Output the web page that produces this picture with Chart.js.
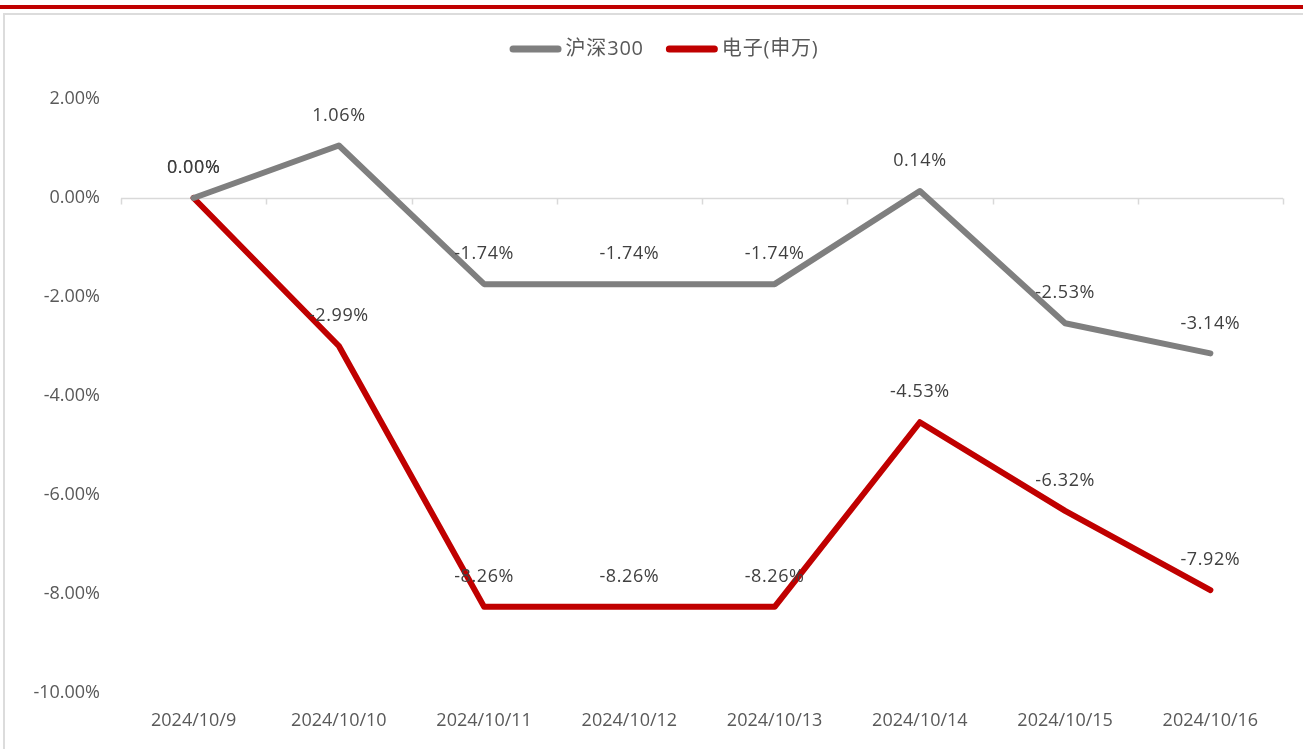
<!DOCTYPE html>
<html>
<head>
<meta charset="utf-8">
<script src="https://cdn.jsdelivr.net/npm/chart.js@4.4.1/dist/chart.umd.min.js"></script>
<style>
  html, body { margin: 0; padding: 0; background: #fff; }
  #wrap { position: relative; width: 1303px; height: 749px; overflow: hidden; }
  #topbar { position: absolute; left: 0; top: 5px; width: 1303px; height: 4px; background: #c00000; }
  #frame { position: absolute; left: 3px; top: 13px; width: 1400px; height: 800px; border: 2px solid #dcdcdc; }
  #chart { position: absolute; left: 0; top: 0; }
</style>
</head>
<body>
<div id="wrap">
  <div id="topbar"></div>
  <div id="frame"></div>
  <canvas id="chart" width="1303" height="749"></canvas>
</div>
<script>
const dates = ['2024/10/9', '2024/10/10', '2024/10/11', '2024/10/12', '2024/10/13', '2024/10/14', '2024/10/15', '2024/10/16'];
const hs300 = [0.00, 1.06, -1.74, -1.74, -1.74, 0.14, -2.53, -3.14];
const dianzi = [0.00, -2.99, -8.26, -8.26, -8.26, -4.53, -6.32, -7.92];
const seriesNames = ['沪深300', '电子(申万)'];
const seriesColors = ['#7f7f7f', '#c00000'];

const FONT = '"Open Sans", "Noto Sans CJK SC", sans-serif';

// zero line + category tick marks
const zeroAxis = {
  id: 'zeroAxis',
  beforeDatasetsDraw(chart) {
    const ctx = chart.ctx;
    const y = chart.scales.y;
    const y0 = Math.round(y.getPixelForValue(0)) + 0.5;
    ctx.save();
    ctx.strokeStyle = '#d9d9d9';
    ctx.lineWidth = 1.5;
    ctx.beginPath();
    ctx.moveTo(chart.chartArea.left, y0);
    ctx.lineTo(chart.chartArea.right, y0);
    const n = dates.length;
    for (let i = 0; i <= n; i++) {
      const px = chart.chartArea.left + (chart.chartArea.right - chart.chartArea.left) * i / n;
      ctx.moveTo(Math.round(px) + 0.5, y0);
      ctx.lineTo(Math.round(px) + 0.5, y0 + 6);
    }
    ctx.stroke();
    ctx.restore();
  }
};

// value labels above each point
const pointLabels = {
  id: 'pointLabels',
  afterDatasetsDraw(chart) {
    const ctx = chart.ctx;
    ctx.save();
    ctx.font = '18px ' + FONT;
    ctx.letterSpacing = '0.6px';
    ctx.fillStyle = '#404040';
    ctx.textAlign = 'center';
    ctx.textBaseline = 'middle';
    chart.data.datasets.forEach((ds, i) => {
      chart.getDatasetMeta(i).data.forEach((pt, j) => {
        ctx.fillText(ds.data[j].toFixed(2) + '%', pt.x, pt.y - 30);
      });
    });
    ctx.restore();
  }
};

// legend drawn at top centre
const topLegend = {
  id: 'topLegend',
  afterDraw(chart) {
    const ctx = chart.ctx;
    ctx.save();
    ctx.font = '20px ' + FONT;
    ctx.letterSpacing = '0.8px';
    ctx.textBaseline = 'middle';
    const lineW = 52, gapText = 4, gapItem = 22, yy = 49;
    const items = chart.data.datasets.map(ds => ({ label: ds.label, color: ds.borderColor, w: ctx.measureText(ds.label).width }));
    let total = 0;
    items.forEach((it, k) => { total += lineW + gapText + it.w + (k < items.length - 1 ? gapItem : 0); });
    let xx = 664 - total / 2;
    items.forEach(it => {
      ctx.strokeStyle = it.color;
      ctx.lineWidth = 7;
      ctx.lineCap = 'round';
      ctx.beginPath();
      ctx.moveTo(xx + 3.5, yy);
      ctx.lineTo(xx + lineW - 3.5, yy);
      ctx.stroke();
      ctx.fillStyle = '#595959';
      ctx.textAlign = 'left';
      ctx.fillText(it.label, xx + lineW + gapText, yy);
      xx += lineW + gapText + it.w + gapItem;
    });
    ctx.restore();
  }
};

new Chart(document.getElementById('chart'), {
  type: 'line',
  data: {
    labels: dates,
    datasets: [
      { label: seriesNames[0], data: hs300, borderColor: seriesColors[0], backgroundColor: seriesColors[0] },
      { label: seriesNames[1], data: dianzi, borderColor: seriesColors[1], backgroundColor: seriesColors[1] }
    ]
  },
  options: {
    responsive: false,
    animation: false,
    layout: { padding: { top: 99, right: 20, bottom: 0, left: 0 } },
    elements: {
      line: { borderWidth: 6, tension: 0, borderCapStyle: 'round', borderJoinStyle: 'round' },
      point: { radius: 0, hoverRadius: 0 }
    },
    plugins: {
      legend: { display: false },
      tooltip: { enabled: false }
    },
    scales: {
      x: {
        offset: true,
        grid: { display: false },
        border: { display: false },
        ticks: { color: '#595959', font: { size: 18, family: FONT }, padding: 9, maxRotation: 0, autoSkip: false },
        afterFit(s) { s.height = 56; }
      },
      y: {
        min: -10,
        max: 2,
        grid: { display: false },
        border: { display: false },
        ticks: {
          stepSize: 2,
          color: '#595959',
          font: { size: 18, family: FONT },
          padding: 13,
          callback: v => v.toFixed(2) + '%'
        },
        afterFit(s) { s.width = 121; }
      }
    }
  },
  plugins: [zeroAxis, pointLabels, topLegend]
});
</script>
</body>
</html>
